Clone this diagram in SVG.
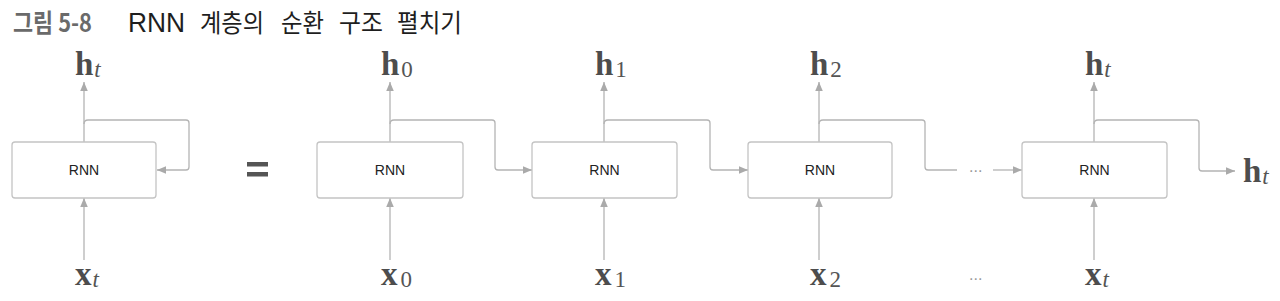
<svg xmlns="http://www.w3.org/2000/svg" width="1280" height="301" viewBox="0 0 1280 301">
<style>
.box{fill:#fff;stroke:#c4c4c4;stroke-width:1.3}
.lbl{font-family:"Liberation Sans",Arial,sans-serif;font-size:14px;fill:#222}
.conn{fill:none;stroke:#b4b4b4;stroke-width:1.3}
.h{font-family:"Liberation Serif","DejaVu Serif",serif;font-weight:bold;font-size:33px;fill:#4d4d4d}
.sub{font-family:"Liberation Serif","DejaVu Serif",serif;font-weight:normal;font-size:23px;fill:#555}
.it{font-style:italic}
.dots{font-family:"Liberation Sans",Arial,sans-serif;font-size:16px;fill:#999}
.tk{font-family:"Noto Sans CJK KR","Noto Sans",sans-serif;font-size:25px;fill:#1e1e1e}
.tl{font-family:"Liberation Sans",Arial,sans-serif;font-size:27px;fill:#1e1e1e}
.gray{font-weight:bold;fill:#6a6a6a}
</style>
<defs>
<marker id="arr" viewBox="0 0 10 10" refX="10" refY="5" markerWidth="9" markerHeight="9" markerUnits="userSpaceOnUse" orient="auto">
<path d="M0,0.8 L10,5 L0,9.2 z" fill="#aaaaaa"/>
</marker>
</defs>
<g id="title">
<text x="13" y="32" class="tk gray" textLength="79" lengthAdjust="spacingAndGlyphs">그림 5-8</text>
<text x="128" y="32" class="tl" textLength="57" lengthAdjust="spacingAndGlyphs">RNN</text>
<text x="200" y="32" class="tk" textLength="64" lengthAdjust="spacingAndGlyphs">계층의</text>
<text x="281" y="32" class="tk" textLength="43" lengthAdjust="spacingAndGlyphs">순환</text>
<text x="339" y="32" class="tk" textLength="44" lengthAdjust="spacingAndGlyphs">구조</text>
<text x="397" y="32" class="tk" textLength="65" lengthAdjust="spacingAndGlyphs">펼치기</text>
</g>
<g id="connectors">
<path class="conn" marker-end="url(#arr)" d="M84,142 V82"/>
<path class="conn" marker-end="url(#arr)" d="M84,260 V198"/>
<path class="conn" marker-end="url(#arr)" d="M84,124 Q84,120 88,120 H186 Q189,120 189,123 V167 Q189,170 186,170 H157"/>
<path class="conn" marker-end="url(#arr)" d="M390,142 V82"/>
<path class="conn" marker-end="url(#arr)" d="M390,260 V198"/>
<path class="conn" marker-end="url(#arr)" d="M390,124 Q390,120 394,120 H492 Q495,120 495,123 V167 Q495,170 498,170 H532"/>
<path class="conn" marker-end="url(#arr)" d="M604,142 V82"/>
<path class="conn" marker-end="url(#arr)" d="M604,260 V198"/>
<path class="conn" marker-end="url(#arr)" d="M604,124 Q604,120 608,120 H707 Q710,120 710,123 V167 Q710,170 713,170 H748"/>
<path class="conn" marker-end="url(#arr)" d="M819,142 V82"/>
<path class="conn" marker-end="url(#arr)" d="M819,260 V198"/>
<path class="conn" d="M819,124 Q819,120 823,120 H922 Q925,120 925,123 V167 Q925,170 928,170 H957"/>
<path class="conn" marker-end="url(#arr)" d="M993,170 H1022"/>
<path class="conn" marker-end="url(#arr)" d="M1094,142 V82"/>
<path class="conn" marker-end="url(#arr)" d="M1094,260 V198"/>
<path class="conn" marker-end="url(#arr)" d="M1094,124 Q1094,120 1098,120 H1196 Q1199,120 1199,123 V168 Q1199,171 1202,171 H1235"/>
<text class="dots" x="969" y="172">...</text>
</g>
<g id="rnn-folded">
<rect class="box" x="12" y="142" width="144" height="56" rx="3"/>
<text class="lbl" x="84" y="175" text-anchor="middle">RNN</text>
</g>
<g id="equals">
<rect x="247" y="162" width="21" height="4.5" fill="#555"/>
<rect x="247" y="172" width="21" height="4.5" fill="#555"/>
</g>
<g id="rnn-0">
<rect class="box" x="317" y="142" width="146" height="56" rx="3"/>
<text class="lbl" x="390" y="175" text-anchor="middle">RNN</text>
</g>
<g id="rnn-1">
<rect class="box" x="532" y="142" width="145" height="56" rx="3"/>
<text class="lbl" x="604.5" y="175" text-anchor="middle">RNN</text>
</g>
<g id="rnn-2">
<rect class="box" x="748" y="142" width="144" height="56" rx="3"/>
<text class="lbl" x="820" y="175" text-anchor="middle">RNN</text>
</g>
<g id="rnn-t">
<rect class="box" x="1022" y="142" width="145" height="56" rx="3"/>
<text class="lbl" x="1094.5" y="175" text-anchor="middle">RNN</text>
</g>
<g id="labels">
<text class="h" x="75" y="75">h<tspan class="sub it" dx="1" dy="2">t</tspan></text>
<text class="h" x="75" y="285">x<tspan class="sub it" dx="1" dy="2">t</tspan></text>
<text class="h" x="381" y="75">h<tspan class="sub" dx="2" dy="2">0</tspan></text>
<text class="h" x="381" y="285">x<tspan class="sub" dx="3" dy="2">0</tspan></text>
<text class="h" x="595" y="75">h<tspan class="sub" dx="2" dy="2">1</tspan></text>
<text class="h" x="595" y="285">x<tspan class="sub" dx="3" dy="2">1</tspan></text>
<text class="h" x="810" y="75">h<tspan class="sub" dx="2" dy="2">2</tspan></text>
<text class="h" x="810" y="285">x<tspan class="sub" dx="3" dy="2">2</tspan></text>
<text class="h" x="1085" y="75">h<tspan class="sub it" dx="1" dy="2">t</tspan></text>
<text class="h" x="1085" y="285">x<tspan class="sub it" dx="1" dy="2">t</tspan></text>
<text class="h" x="1243" y="182">h<tspan class="sub it" dx="1" dy="2">t</tspan></text>
<text class="dots" x="969" y="280">...</text>
</g>
</svg>
